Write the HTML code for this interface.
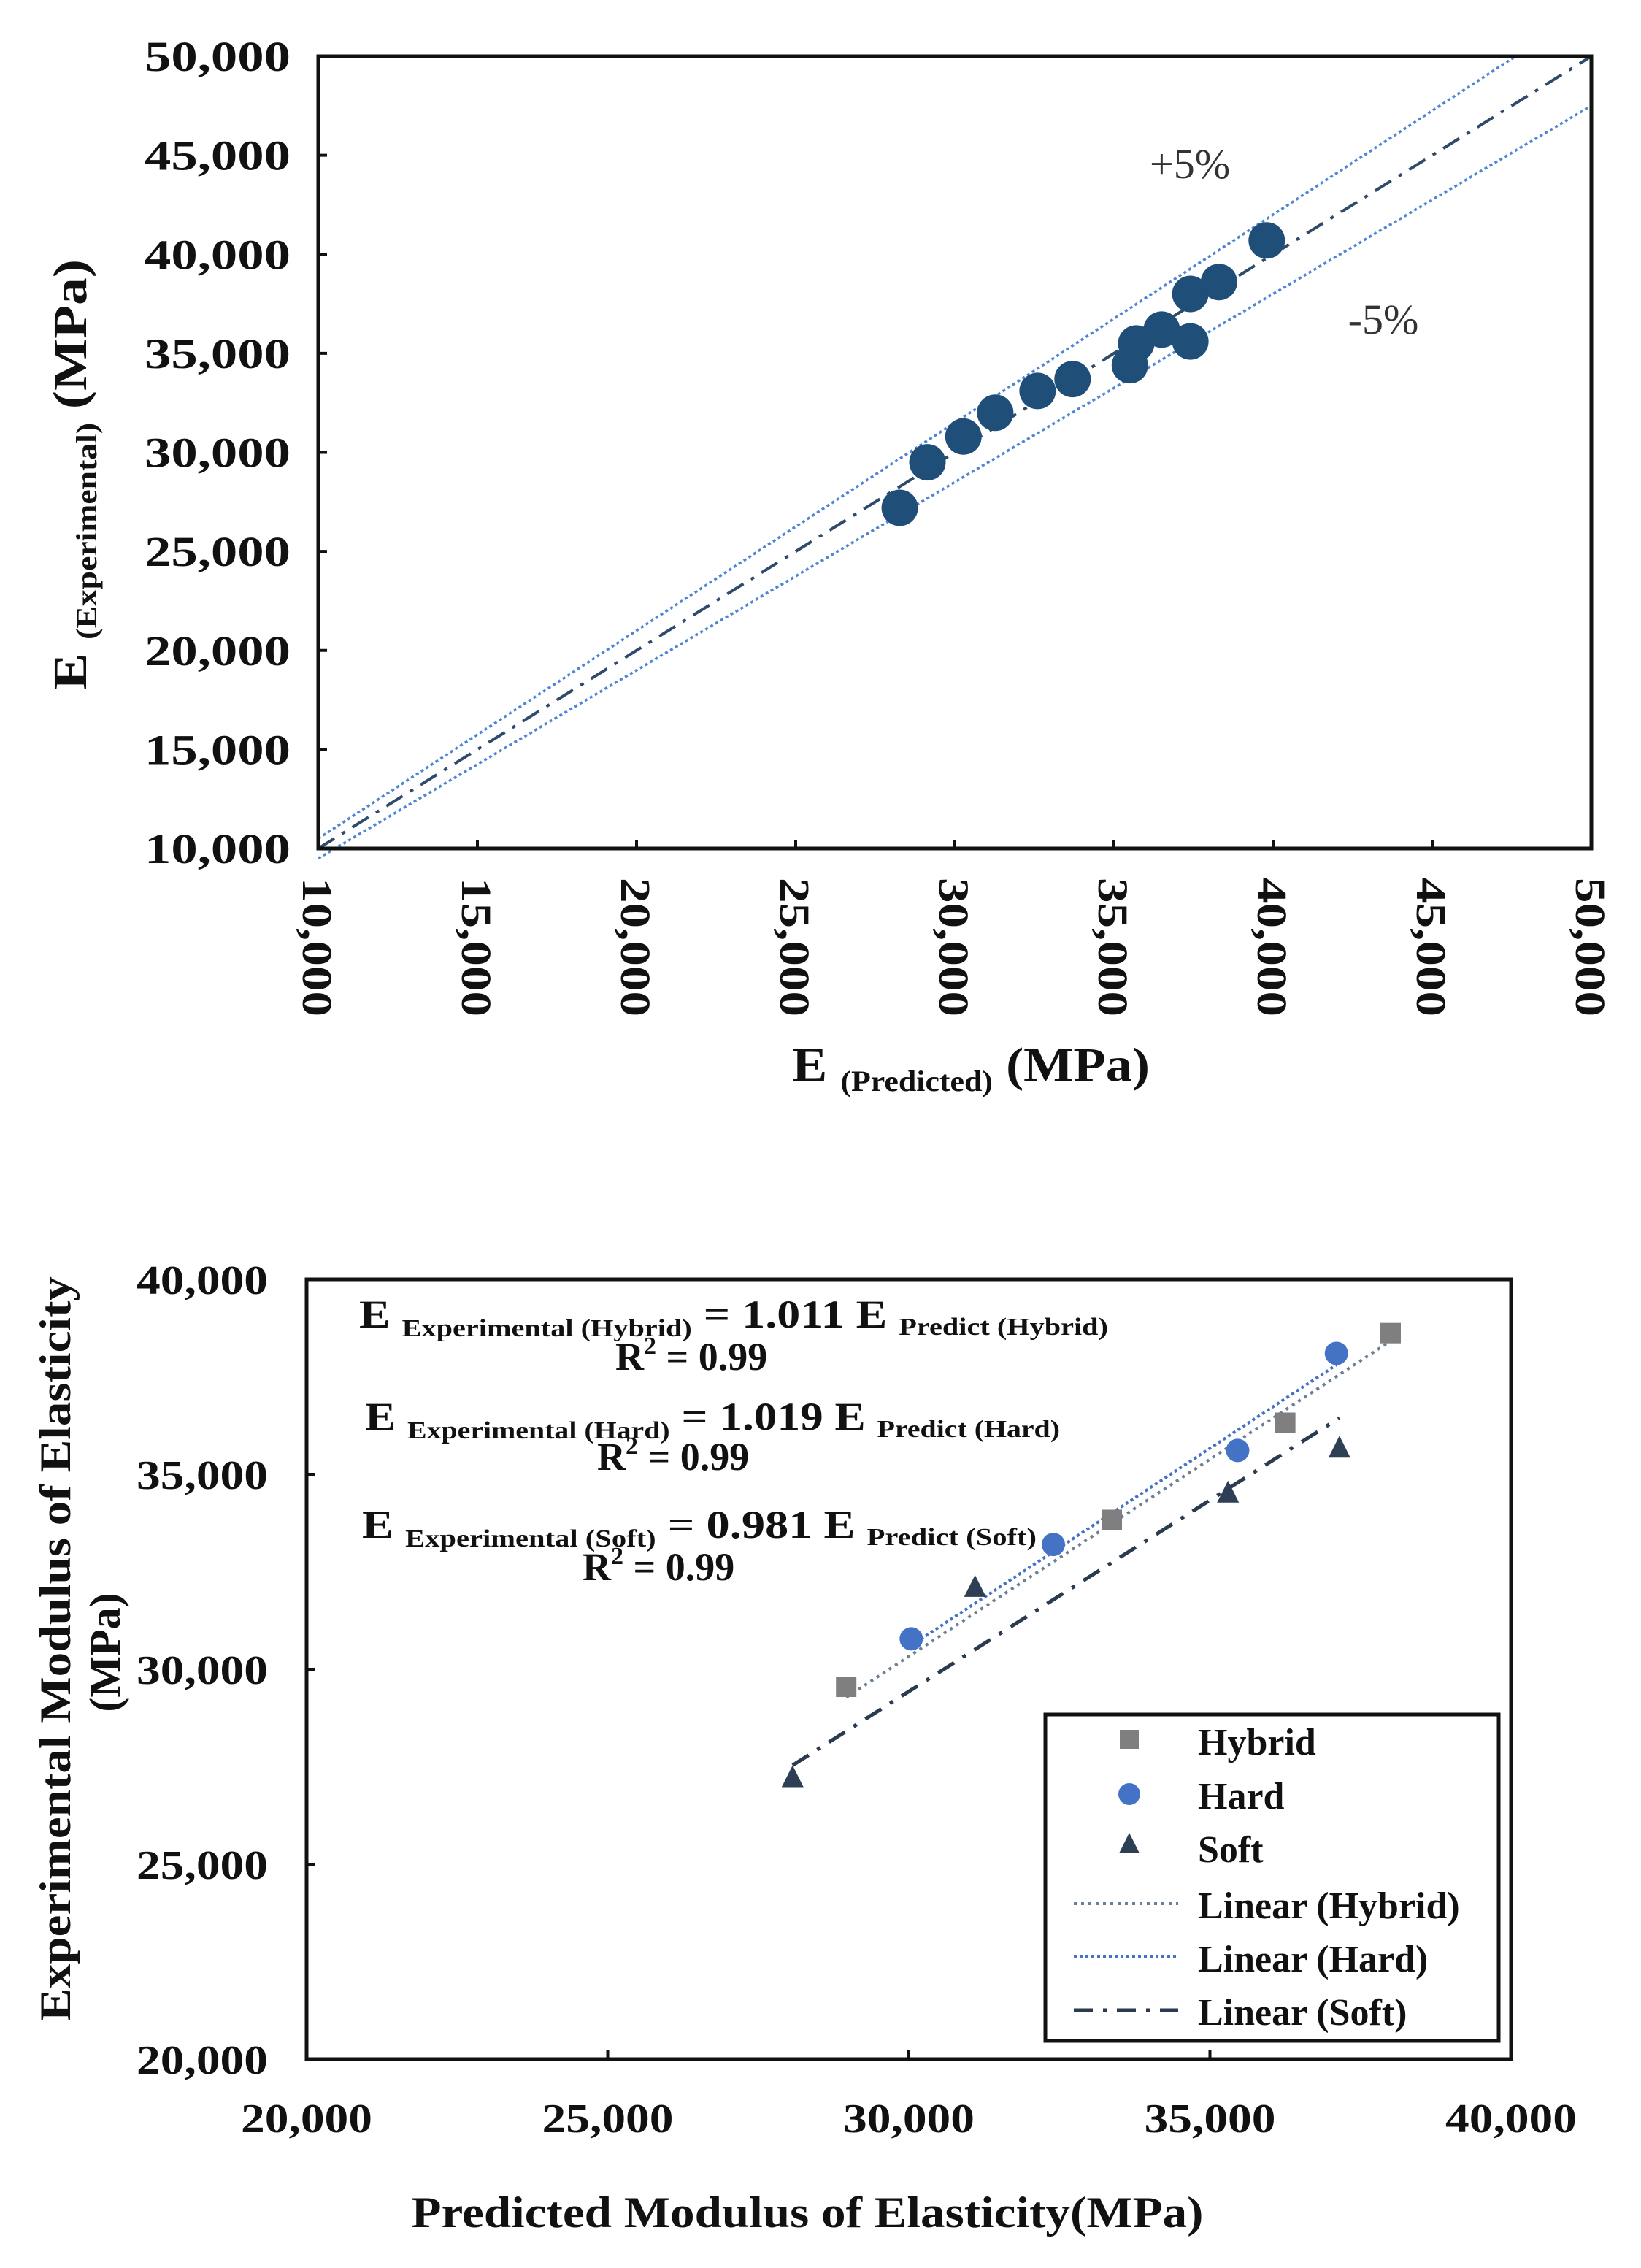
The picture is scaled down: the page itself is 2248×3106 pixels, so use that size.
<!DOCTYPE html>
<html><head><meta charset="utf-8"><style>
html,body{margin:0;padding:0;background:#fff;}
svg{display:block;font-family:"Liberation Serif",serif;font-weight:bold;}
</style></head><body>
<svg id="fig" width="2248" height="3106" viewBox="0 0 2248 3106" xmlns="http://www.w3.org/2000/svg">
<rect width="2248" height="3106" fill="#fff"/>
<g id="top"></g>
<g id="bot"></g>
</svg>
<script>
// ---------- Top chart data ----------
const topTicks = [10000,15000,20000,25000,30000,35000,40000,45000,50000];
const topTickLabels = ["10,000","15,000","20,000","25,000","30,000","35,000","40,000","45,000","50,000"];
const topPredicted = [28270,29140,30270,31270,32600,33700,35500,35700,36500,37400,37400,38300,39800];
const topExperimental = [27200,29500,30800,32000,33100,33700,34400,35500,36200,35600,38000,38600,40700];
const bandFactors = [1.05,0.95];
// ---------- Bottom chart data ----------
const botXTicks = [20000,25000,30000,35000,40000];
const botXTickLabels = ["20,000","25,000","30,000","35,000","40,000"];
const botYTicks = [20000,25000,30000,35000,40000];
const botYTickLabels = ["20,000","25,000","30,000","35,000","40,000"];
const hybridX = [28960,33370,36250,38000];
const hybridY = [29550,33830,36320,38620];
const hardX = [30040,32400,35460,37100];
const hardY = [30780,33200,35610,38100];
const softX = [28070,31100,35300,37150];
const softY = [27200,32080,34500,35650];
const slopes = [1.011,1.019,0.981];

const NS="http://www.w3.org/2000/svg";
function mk(parent,tag,attrs){const e=document.createElementNS(NS,tag);for(const k in attrs)e.setAttribute(k,attrs[k]);parent.appendChild(e);return e;}

// ======= TOP =======
const T=document.getElementById('top');
const tx=v=>436+(v-10000)/40000*(2180-436);
const ty=v=>1162-(v-10000)/40000*(1162-77);
let l=mk(T,'line',{x1:tx(10000),y1:ty(10000),x2:tx(50000),y2:ty(50000),stroke:'#2f4a6a','stroke-width':4,'stroke-dasharray':'26 12 5 12'});

bandFactors.forEach((f,i)=>{
  const xEnd=Math.min(50000,50000/f);
  const e=mk(T,'line',{x1:tx(10000),y1:ty(10000*f),x2:tx(xEnd),y2:ty(xEnd*f),stroke:'#4f86d4','stroke-width':3.5,'stroke-dasharray':'4 4'});
  
  
});
topPredicted.forEach((x,i)=>{
  const c=mk(T,'circle',{cx:tx(x),cy:ty(topExperimental[i]),r:25,fill:'#1f4e79'});
  
  
});
let fr=mk(T,'rect',{x:436,y:77,width:2180-436,height:1162-77,fill:'none',stroke:'#111','stroke-width':5});

topTicks.forEach((v,i)=>{
  mk(T,'line',{x1:436,y1:ty(v),x2:448,y2:ty(v),stroke:'#111','stroke-width':4});
  mk(T,'line',{x1:tx(v),y1:1162,x2:tx(v),y2:1150,stroke:'#111','stroke-width':4});
  const yl=mk(T,'text',{x:398,y:ty(v)+20,'text-anchor':'end','font-size':58,textLength:200,lengthAdjust:'spacingAndGlyphs',fill:'#111'});
  yl.textContent=topTickLabels[i];
  
  const xl=mk(T,'text',{x:0,y:0,'font-size':58,textLength:190,lengthAdjust:'spacingAndGlyphs',fill:'#111',transform:`translate(${tx(v)-21},1202) rotate(90)`});
  xl.textContent=topTickLabels[i];
  
});
</script>
<script>
(function(){
const T=document.getElementById('top');
function mk(parent,tag,attrs){const e=document.createElementNS("http://www.w3.org/2000/svg",tag);for(const k in attrs)e.setAttribute(k,attrs[k]);parent.appendChild(e);return e;}
let t=mk(T,'text',{x:1330,y:1480,'text-anchor':'middle','font-size':66,fill:'#111',textLength:490,lengthAdjust:'spacingAndGlyphs'});
t.innerHTML='E <tspan font-size="40" dy="14">(Predicted)</tspan><tspan dy="-14"> (MPa)</tspan>';

t=mk(T,'text',{x:0,y:0,'text-anchor':'middle','font-size':66,fill:'#111',textLength:590,lengthAdjust:'spacingAndGlyphs',transform:'translate(118,650) rotate(-90)'});
t.innerHTML='E <tspan font-size="40" dy="14">(Experimental)</tspan><tspan dy="-14"> (MPa)</tspan>';

t=mk(T,'text',{x:1630,y:244,'text-anchor':'middle','font-size':58,'font-weight':'normal',fill:'#333'});
t.textContent='+5%';
t=mk(T,'text',{x:1895,y:457,'text-anchor':'middle','font-size':58,'font-weight':'normal',fill:'#333'});
t.textContent='-5%';
})();
</script>
<script>
(function(){
const B=document.getElementById('bot');
const NS="http://www.w3.org/2000/svg";
function mk(parent,tag,attrs){const e=document.createElementNS(NS,tag);for(const k in attrs)e.setAttribute(k,attrs[k]);parent.appendChild(e);return e;}
const L=420,R=2070,TOP=1752,BOT=2820;
const bx=v=>L+(v-20000)/20000*(R-L);
const by=v=>BOT-(v-20000)/20000*(BOT-TOP);
const lineStyles=[
  {stroke:'#6b7f95',dash:'4 6',w:4},
  {stroke:'#4472c4',dash:'4 4',w:4},
  {stroke:'#2a3b4f',dash:'26 14 5 14',w:5}];
const xsets=[hybridX,hardX,softX];
const names=['trendline-hybrid','trendline-hard','trendline-soft'];
xsets.forEach((xs,i)=>{
  const x0=Math.min(...xs),x1=Math.max(...xs);
  const s=lineStyles[i];
  const e=mk(B,'line',{x1:bx(x0),y1:by(x0*slopes[i]),x2:bx(x1),y2:by(x1*slopes[i]),stroke:s.stroke,'stroke-width':s.w,'stroke-dasharray':s.dash});
  
  
});
hybridX.forEach((x,i)=>{
  const e=mk(B,'rect',{x:bx(x)-14,y:by(hybridY[i])-14,width:28,height:28,fill:'#7f7f7f'});
  
  
});
hardX.forEach((x,i)=>{
  const e=mk(B,'circle',{cx:bx(x),cy:by(hardY[i]),r:16,fill:'#4472c4'});
  
  
});
softX.forEach((x,i)=>{
  const cx=bx(x),cy=by(softY[i]);
  const e=mk(B,'polygon',{points:`${cx},${cy-18} ${cx+15},${cy+12} ${cx-15},${cy+12}`,fill:'#2e3f55'});
  
  
});
const fr=mk(B,'rect',{x:L,y:TOP,width:R-L,height:BOT-TOP,fill:'none',stroke:'#111','stroke-width':5});

botYTicks.forEach((v,i)=>{
  mk(B,'line',{x1:L,y1:by(v),x2:L+12,y2:by(v),stroke:'#111','stroke-width':4});
  const t=mk(B,'text',{x:367,y:by(v)+20,'text-anchor':'end','font-size':56,textLength:180,lengthAdjust:'spacingAndGlyphs',fill:'#111'});
  t.textContent=botYTickLabels[i];
  
});
botXTicks.forEach((v,i)=>{
  mk(B,'line',{x1:bx(v),y1:BOT,x2:bx(v),y2:BOT-12,stroke:'#111','stroke-width':4});
  const t=mk(B,'text',{x:bx(v),y:2920,'text-anchor':'middle','font-size':56,textLength:180,lengthAdjust:'spacingAndGlyphs',fill:'#111'});
  t.textContent=botXTickLabels[i];
  
});
let t=mk(B,'text',{x:1106,y:3050,'text-anchor':'middle','font-size':60,textLength:1085,lengthAdjust:'spacingAndGlyphs',fill:'#111'});
t.textContent='Predicted Modulus of Elasticity(MPa)';

t=mk(B,'text',{x:0,y:0,'text-anchor':'middle','font-size':60,textLength:1020,lengthAdjust:'spacingAndGlyphs',fill:'#111',transform:'translate(96,2258) rotate(-90)'});
t.textContent='Experimental Modulus of Elasticity';

t=mk(B,'text',{x:0,y:0,'text-anchor':'middle','font-size':60,fill:'#111',transform:'translate(164,2263) rotate(-90)'});
t.textContent='(MPa)';

const eqs=[
 {x:492,y:1818,a:'Experimental  (Hybrid)',c:'= 1.011 E',b:'Predict (Hybrid)',rx:883,ry:1876,w:1026},
 {x:500,y:1958,a:'Experimental  (Hard)',c:'= 1.019 E',b:'Predict (Hard)',rx:858,ry:2013,w:952},
 {x:496,y:2106,a:'Experimental  (Soft)',c:'= 0.981 E',b:'Predict (Soft)',rx:838,ry:2164,w:924}];
eqs.forEach((q,i)=>{
  const e=mk(B,'text',{x:q.x,y:q.y,'font-size':54,fill:'#111',textLength:q.w,lengthAdjust:'spacingAndGlyphs'});
  e.innerHTML=`E <tspan font-size="34" dy="12">${q.a}</tspan><tspan dy="-12"> ${q.c} </tspan><tspan font-size="34" dy="10">${q.b}</tspan>`;
  
  
  const r=mk(B,'text',{x:q.rx-40,y:q.ry,'font-size':54,fill:'#111'});
  r.innerHTML='R<tspan font-size="34" dy="-22">2</tspan><tspan dy="22"> = 0.99</tspan>';
  
  
});
const lg=mk(B,'g',{});

mk(lg,'rect',{x:1432,y:2348,width:621,height:447,fill:'#fff',stroke:'#111','stroke-width':5});
const rows=[2403,2477,2550,2627,2700,2773];
const labels=['Hybrid','Hard','Soft','Linear (Hybrid)','Linear (Hard)','Linear (Soft)'];
const mx=1547;
mk(lg,'rect',{x:mx-13,y:rows[0]-34,width:26,height:26,fill:'#7f7f7f'});
mk(lg,'circle',{cx:mx,cy:rows[1]-20,r:15,fill:'#4472c4'});
mk(lg,'polygon',{points:`${mx},${rows[2]-40} ${mx+14},${rows[2]-12} ${mx-14},${rows[2]-12}`,fill:'#2e3f55'});
lineStyles.forEach((s,i)=>{
  mk(lg,'line',{x1:1471,y1:rows[3+i]-20,x2:1614,y2:rows[3+i]-20,stroke:s.stroke,'stroke-width':s.w,'stroke-dasharray':s.dash});
});
labels.forEach((s,i)=>{
  const e=mk(lg,'text',{x:1641,y:rows[i],'font-size':52,fill:'#111'});
  e.textContent=s;
  
  
});
})();
</script>
</body></html>
